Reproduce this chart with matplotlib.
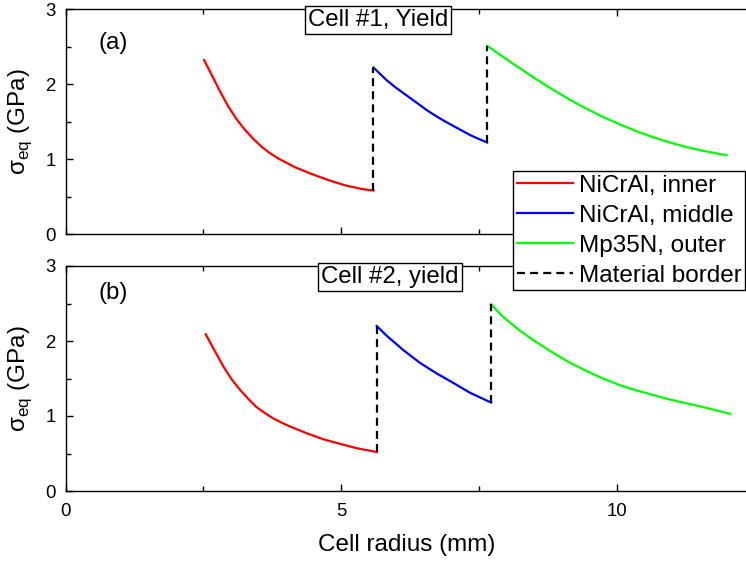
import matplotlib
matplotlib.use("Agg")
import matplotlib.pyplot as plt

plt.rcParams['font.family'] = ['Liberation Sans', 'DejaVu Sans']

# Cell #1 (panel a), radius in mm, stress in GPa
r1_inner = [2.51, 2.65, 2.80, 2.95, 3.10, 3.25, 3.40, 3.55, 3.70, 3.86,
            4.16, 4.46, 4.76, 5.06, 5.37, 5.58]
s1_inner = [2.32, 2.12, 1.90, 1.70, 1.53, 1.39, 1.27, 1.165, 1.08, 1.005,
            0.89, 0.80, 0.72, 0.65, 0.60, 0.58]
r1_middle = [5.58, 5.82, 5.97, 6.12, 6.27, 6.42, 6.57, 6.72, 6.88, 7.03,
             7.18, 7.33, 7.42, 7.64]
s1_middle = [2.22, 2.05, 1.96, 1.88, 1.80, 1.72, 1.64, 1.57, 1.50, 1.44,
             1.38, 1.32, 1.29, 1.22]
r1_outer = [7.64, 7.93, 8.23, 8.54, 8.84, 9.14, 9.44, 9.74, 10.05, 10.35,
            10.65, 10.95, 11.25, 11.55, 11.98]
s1_outer = [2.51, 2.36, 2.21, 2.06, 1.92, 1.79, 1.67, 1.56, 1.46, 1.37,
            1.29, 1.22, 1.16, 1.11, 1.05]

# Cell #2 (panel b)
r2_inner = [2.54, 2.71, 2.86, 3.01, 3.16, 3.31, 3.46, 3.61, 3.76, 3.92,
            4.07, 4.37, 4.67, 4.97, 5.28, 5.64]
s2_inner = [2.09, 1.86, 1.66, 1.49, 1.35, 1.23, 1.12, 1.04, 0.97, 0.91,
            0.86, 0.77, 0.69, 0.63, 0.57, 0.52]
r2_middle = [5.64, 5.82, 6.12, 6.42, 6.72, 7.03, 7.33, 7.71]
s2_middle = [2.20, 2.07, 1.88, 1.71, 1.57, 1.44, 1.31, 1.18]
r2_outer = [7.71, 7.93, 8.23, 8.54, 8.84, 9.14, 9.44, 9.74, 10.05, 10.35,
            10.65, 10.95, 11.25, 11.55, 12.04]
s2_outer = [2.49, 2.32, 2.14, 1.98, 1.84, 1.71, 1.60, 1.50, 1.41, 1.34,
            1.28, 1.22, 1.17, 1.12, 1.03]

labels = ['NiCrAl, inner', 'NiCrAl, middle', 'Mp35N, outer', 'Material border']
titles = ['Cell #1, Yield', 'Cell #2, yield']
panel_tags = ['(a)', '(b)']

fig = plt.figure(figsize=(7.46, 5.66), dpi=100)
W, H = 746, 566
ax1 = fig.add_axes([65.5 / W, 1 - 234 / H, (747 - 65.5) / W, 225 / H])
ax2 = fig.add_axes([65.5 / W, 1 - 491 / H, (747 - 65.5) / W, 225 / H])

panels = [
    (ax1, r1_inner, s1_inner, r1_middle, s1_middle, r1_outer, s1_outer, 5.67, 2.55),
    (ax2, r2_inner, s2_inner, r2_middle, s2_middle, r2_outer, s2_outer, 5.88, 2.64),
]

dash = (0, (3.6, 2.3))
for i, (ax, ri, si, rm, sm, ro, so, tx, ty) in enumerate(panels):
    l1, = ax.plot(ri, si, color='#ff0000', lw=1.6)
    l2, = ax.plot(rm, sm, color='#0000ff', lw=1.6)
    l3, = ax.plot(ro, so, color='#00ff00', lw=1.6)
    # material borders: vertical jumps between layers
    l4, = ax.plot([ri[-1], ri[-1]], [si[-1], sm[0]], color='black', lw=1.6, ls=dash)
    ax.plot([rm[-1], rm[-1]], [sm[-1], so[0]], color='black', lw=1.6, ls=dash)

    ax.set_xlim(0, 12.35)
    ax.set_ylim(0, 3)
    ax.set_xticks([0, 5, 10])
    ax.set_xticks([2.5, 7.5], minor=True)
    ax.set_yticks([0, 1, 2, 3])
    ax.set_yticks([0.5, 1.5, 2.5], minor=True)
    ax.tick_params(which='both', direction='in', top=True, right=False,
                   labelsize=13.4, width=1)
    ax.tick_params(which='major', length=5)
    ax.tick_params(which='minor', length=3.5)
    ax.tick_params(axis='y', pad=7)
    ax.tick_params(axis='x', pad=9)
    for sp in ax.spines.values():
        sp.set_linewidth(1)
    ax.spines['right'].set_visible(False)

    ax.set_ylabel('σ$_\\mathregular{eq}$ (GPa)', fontsize=17.5)
    ax.yaxis.set_label_coords(-0.046, 0.5)

    ax.text(tx, 3.0, titles[i], fontsize=17.3, ha='center', va='top',
            bbox=dict(boxstyle='square,pad=0.12', fc='white', ec='black', lw=1))
    ax.text(0.6, ty, panel_tags[i], fontsize=17.3, ha='left', va='center')

ax1.tick_params(axis='x', labelbottom=False)
ax2.set_xlabel('Cell radius (mm)', fontsize=17.5, labelpad=10)

fig.legend([l1, l2, l3, l4], labels, loc='upper left',
           bbox_to_anchor=(513 / W, 1 - 171 / H), borderaxespad=0,
           fontsize=17.5, frameon=True, fancybox=False, edgecolor='black',
           framealpha=1, handlelength=2.3, handletextpad=0.25,
           labelspacing=0.33, borderpad=0.15)

fig.savefig('out.png', dpi=100)
